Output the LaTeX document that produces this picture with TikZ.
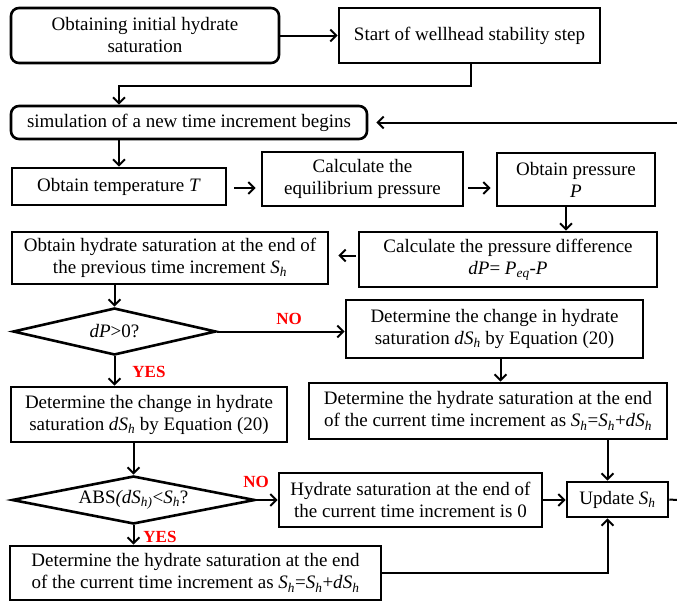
\documentclass[tikz,border=0pt]{standalone}
\usepackage{fontspec}
\setmainfont{Liberation Serif}
\usetikzlibrary{arrows.meta,shapes.geometric,calc}
\newcommand{\Shh}{\textit{S}\textsubscript{\textit{h}}}
\begin{document}
\begin{tikzpicture}[x=1pt,y=-1pt,
  font=\fontsize{19}{22}\selectfont,
  box/.style={draw, line width=2.6pt, align=center, inner sep=0pt},
  rbox/.style={box, rounded corners=8pt},
  dbox/.style={draw, line width=2.6pt, diamond, inner sep=0pt, align=center},
  arr/.style={line width=2pt, -{Straight Barb[length=6pt,width=12pt]}},
  ln/.style={line width=2pt},
  lab/.style={text=red, font=\fontsize{17}{20}\selectfont\bfseries}]
\useasboundingbox (0,0) rectangle (677,605);
% nodes
\node[rbox, minimum width=268pt, minimum height=55pt] (init) at (145,35.5) {Obtaining initial hydrate\\saturation};
\node[box, minimum width=261pt, minimum height=55pt] (start) at (469.5,35.5) {Start of wellhead stability step};
\node[rbox, minimum width=356pt, minimum height=33pt] (sim) at (189,122.5) {simulation of a new time increment begins};
\node[box, minimum width=214pt, minimum height=37pt] (temp) at (119,186.5) {Obtain temperature \textit{T}};
\node[box, minimum width=201pt, minimum height=54pt] (eq) at (362.5,179) {Calculate the\\equilibrium pressure};
\node[box, minimum width=158pt, minimum height=53pt] (pres) at (576,179.5) {Obtain pressure\\\textit{P}};
\node[box, minimum width=298pt, minimum height=55pt] (diff) at (508,259.5) {Calculate the pressure difference\\\textit{dP}= \textit{P}\textsubscript{\textit{eq}}-\textit{P}};
\node[box, minimum width=316pt, minimum height=52pt] (prev) at (170,258) {Obtain hydrate saturation at the end of\\the previous time increment \Shh};
\node[dbox, minimum width=203pt, minimum height=47pt, aspect=4.3] (d1) at (114.5,331.5) {\textit{dP}>0?};
\node[box, minimum width=297pt, minimum height=58pt] (r1) at (494.5,329) {Determine the change in hydrate\\saturation \textit{d}\Shh{} by Equation (20)};
\node[box, minimum width=358pt, minimum height=56pt] (r2) at (488,411) {Determine the hydrate saturation at the end\\of the current time increment as \Shh=\Shh+\textit{d}\Shh};
\node[box, minimum width=276pt, minimum height=55pt] (l1) at (149,414.5) {Determine the change in hydrate\\saturation \textit{d}\Shh{} by Equation (20)};
\node[dbox, minimum width=243pt, minimum height=48pt, aspect=5] (d2) at (133.5,500) {ABS\textit{(dS\textsubscript{h)}}<\Shh?};
\node[box, minimum width=263pt, minimum height=54pt] (h0) at (410.5,500) {Hydrate saturation at the end of\\the current time increment is 0};
\node[box, minimum width=101pt, minimum height=35pt] (upd) at (617.5,499.5) {Update \Shh};
\node[box, minimum width=371pt, minimum height=54pt] (bot) at (195.5,573) {Determine the hydrate saturation at the end\\of the current time increment as \Shh=\Shh+\textit{d}\Shh};
% labels
\node[lab] (no1) at (289,319) {NO};
\node[lab] (yes1) at (149,372) {YES};
\node[lab] (no2) at (256,482) {NO};
\node[lab] (yes2) at (160,537) {YES};
% free ends at the right edge
\coordinate (rt) at (677,122.5);
\coordinate (rb) at (677,500);
% connectors
\draw[arr] (init.east) -- (init.east -| start.west);
\draw[arr] ([xshift=1.5pt]start.south) -- ++(0,22) -| (temp.north |- sim.north);
\draw[arr, shorten >=8pt] (rt) -- (sim.east);
\draw[arr] (temp.north |- sim.south) -- (temp.north);
\draw[arr, shorten <=7pt, shorten >=5pt] ([yshift=-1.5pt]temp.east) -- ([yshift=-1.5pt]temp.east -| eq.west);
\draw[arr, shorten <=4pt, shorten >=5pt] ([yshift=-1.5pt]temp.east -| eq.east) -- ([yshift=-1.5pt]temp.east -| pres.west);
\draw[arr] ([xshift=-10pt]pres.south) -- ([xshift=-10pt]pres.south |- diff.north);
\draw[arr, shorten <=2pt, shorten >=9pt] ([yshift=4pt]diff.west) -- ([yshift=4pt]diff.west -| prev.east);
\draw[arr] (d1.north |- prev.south) -- (d1.north);
\draw[arr] (d1.east) -- (d1.east -| r1.west);
\draw[arr] (d1.south) -- (d1.south |- l1.north);
\draw[arr] ([xshift=6pt]r1.south) -- ([xshift=6pt]r1.south |- r2.north);
\draw[arr] (d2.north |- l1.south) -- (d2.north);
\draw[arr] (d2.east) -- (d2.east -| h0.west);
\draw[arr] (d2.south) -- (d2.south |- bot.north);
\draw[arr] (h0.east) -- (h0.east -| upd.west);
\draw[arr] ([xshift=-10pt]upd.north |- r2.south) -- ([xshift=-10pt]upd.north);
\draw[arr] (bot.east) -| ([xshift=-10pt]upd.south);
\draw[ln] (upd.east) -- (rb);
\end{tikzpicture}
\end{document}
